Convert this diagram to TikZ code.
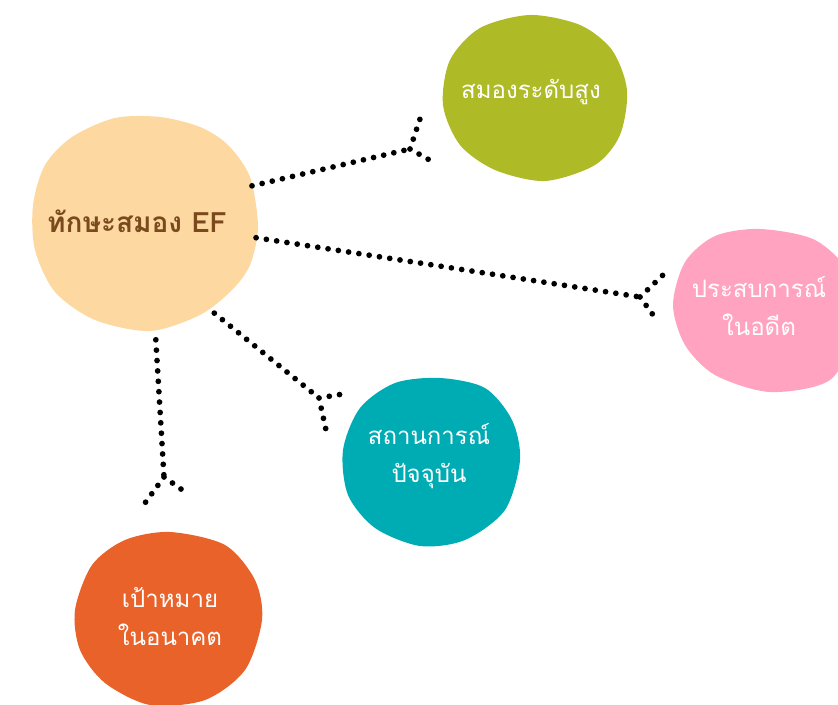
\documentclass[tikz,border=0pt]{standalone}
\usepackage{fontspec}
\newfontfamily\thaifont[Script=Thai]{Loma}
\definecolor{efpeach}{HTML}{FDD8A1}
\definecolor{efbrown}{HTML}{7A4A1E}
\definecolor{hiGreen}{HTML}{AEBA26}
\definecolor{pastPink}{HTML}{FFA3C1}
\definecolor{nowTeal}{HTML}{00ACB4}
\definecolor{goalOrange}{HTML}{E8622A}

\begin{document}
\begin{tikzpicture}[x=0.75pt,y=-0.75pt,
  blobtxt/.style={circle,inner sep=0pt,align=center,text=white,font=\thaifont\fontsize{18}{28.5}\selectfont},
  dotline/.style={line width=4.3pt,line cap=round,dash pattern=on 0pt off 7.8pt}]
\useasboundingbox (0,0) rectangle (838,705);
% blobs
\fill[efpeach] plot[smooth cycle] coordinates {(160,117) (200,127) (228,145) (250,177) (258,227) (250,265) (232,290) (200,315) (150,331) (95,320) (55,292) (35,250) (33,205) (45,165) (72,137) (115,118)};
\fill[hiGreen] plot[smooth cycle] coordinates {(530,15) (580,25) (612,50) (627,90) (620,135) (595,165) (545,181) (495,170) (460,145) (443,105) (450,60) (480,28)};
\fill[pastPink] plot[smooth cycle] coordinates {(760,229) (815,240) (850,275) (855,330) (830,380) (770,392) (715,375) (685,345) (673,305) (685,262) (715,236)};
\fill[nowTeal] plot[smooth cycle] coordinates {(440,378) (485,388) (512,420) (520,460) (505,510) (465,540) (420,546) (375,528) (348,495) (343,450) (360,408) (395,383)};
\fill[goalOrange] plot[smooth cycle] coordinates {(170,532) (225,545) (255,580) (262,620) (245,670) (205,700) (150,705) (105,683) (80,650) (75,610) (92,565) (125,540)};
% texts
\node[blobtxt,minimum size=180pt,text=efbrown,font=\thaifont\bfseries\fontsize{21}{24}\selectfont] (ef) at (137,221) {ทักษะสมอง EF};
\node[blobtxt] (high) at (531,92) {สมองระดับสูง};
\node[blobtxt] (past) at (759,306) {ประสบการณ์\\ในอดีต};
\node[blobtxt] (now) at (429,456) {สถานการณ์\\ปัจจุบัน};
\node[blobtxt] (goal) at (170,617) {เป้าหมาย\\ในอนาคต};
% dotted links with forked ends
\coordinate (highfork) at (410,149);
\coordinate (pastfork) at (640,297);
\coordinate (nowfork) at (319,398);
\coordinate (goalfork) at (164,477);
\draw[dotline] (ef.17.8) -- (highfork) (highfork) -- ++(10,-30) (highfork) -- ++(23,13);
\draw[dotline] (ef.-8.9) -- (pastfork) (pastfork) -- ++(23,-22) (pastfork) -- ++(16,22);
\draw[dotline] (ef.-50.4) -- (nowfork) (nowfork) -- ++(30,-5) (nowfork) -- ++(7,32);
\draw[dotline] (ef.-81.8) -- (goalfork) (goalfork) -- ++(-19,26) (goalfork) -- ++(24,17);
\end{tikzpicture}
\end{document}
